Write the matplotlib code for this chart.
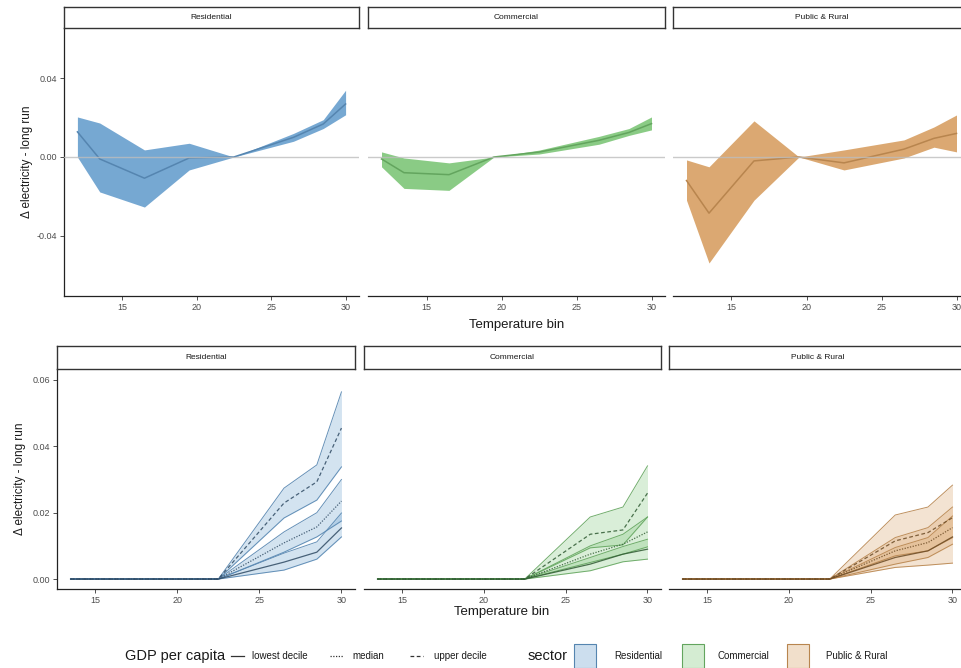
import matplotlib
matplotlib.use("Agg")
import matplotlib.pyplot as plt
from matplotlib.patches import Rectangle
from matplotlib.lines import Line2D

plt.rcParams["font.family"] = ["Liberation Sans", "DejaVu Sans"]

# ---------------- data ----------------
sectors = ["Residential", "Commercial", "Public & Rural"]

# Average effect by temperature bin
temp_bins = [12, 13.5, 16.5, 19.5, 22.5, 26.5, 28.5, 30]
res_mean = [0.0128, -0.0010, -0.0108, -0.0005, 0.0, 0.0100, 0.0168, 0.0270]
res_low = [0.0000, -0.0178, -0.0255, -0.0066, 0.0, 0.0080, 0.0145, 0.0215]
res_high = [0.0204, 0.0173, 0.0036, 0.0070, 0.0, 0.0120, 0.0190, 0.0340]
com_mean = [-0.0010, -0.0080, -0.0090, 0.0, 0.0025, 0.0085, 0.0125, 0.0170]
com_low = [-0.0050, -0.0160, -0.0170, 0.0, 0.0015, 0.0065, 0.0110, 0.0138]
com_high = [0.0026, -0.0005, -0.0030, 0.0, 0.0035, 0.0105, 0.0145, 0.0204]
pub_mean = [-0.0120, -0.0286, -0.0020, 0.0, -0.0030, 0.0040, 0.0095, 0.0120]
pub_low = [-0.0220, -0.0540, -0.0220, 0.0, -0.0066, -0.0005, 0.0050, 0.0026]
pub_high = [-0.0015, -0.0050, 0.0184, 0.0, 0.0036, 0.0087, 0.0153, 0.0214]

# Effect by GDP per capita decile
temp_bins_gdp = [13.5, 16.5, 19.5, 22.5, 26.5, 28.5, 30]
gdp_levels = ["lowest decile", "median", "upper decile"]

res_gdp_mid = [[0, 0, 0, 0, 0.0051, 0.0081, 0.0154],
               [0, 0, 0, 0, 0.0109, 0.0157, 0.0235],
               [0, 0, 0, 0, 0.0229, 0.0293, 0.0455]]
res_gdp_low = [[0, 0, 0, 0, 0.0027, 0.0060, 0.0127],
               [0, 0, 0, 0, 0.0081, 0.0127, 0.0175],
               [0, 0, 0, 0, 0.0184, 0.0238, 0.0338]]
res_gdp_high = [[0, 0, 0, 0, 0.0078, 0.0112, 0.0199],
                [0, 0, 0, 0, 0.0142, 0.0200, 0.0300],
                [0, 0, 0, 0, 0.0274, 0.0344, 0.0564]]

com_gdp_mid = [[0, 0, 0, 0, 0.0045, 0.0075, 0.0090],
               [0, 0, 0, 0, 0.0075, 0.0105, 0.0142],
               [0, 0, 0, 0, 0.0135, 0.0148, 0.0259]]
com_gdp_low = [[0, 0, 0, 0, 0.0025, 0.0052, 0.0060],
               [0, 0, 0, 0, 0.0050, 0.0075, 0.0097],
               [0, 0, 0, 0, 0.0094, 0.0103, 0.0187]]
com_gdp_high = [[0, 0, 0, 0, 0.0065, 0.0098, 0.0120],
                [0, 0, 0, 0, 0.0100, 0.0135, 0.0187],
                [0, 0, 0, 0, 0.0187, 0.0217, 0.0341]]

pub_gdp_mid = [[0, 0, 0, 0, 0.0065, 0.0085, 0.0127],
               [0, 0, 0, 0, 0.0085, 0.0110, 0.0155],
               [0, 0, 0, 0, 0.0115, 0.0140, 0.0185]]
pub_gdp_low = [[0, 0, 0, 0, 0.0035, 0.0042, 0.0048],
               [0, 0, 0, 0, 0.0045, 0.0065, 0.0105],
               [0, 0, 0, 0, 0.0070, 0.0085, 0.0125]]
pub_gdp_high = [[0, 0, 0, 0, 0.0095, 0.0125, 0.0190],
                [0, 0, 0, 0, 0.0125, 0.0155, 0.0217],
                [0, 0, 0, 0, 0.0193, 0.0217, 0.0283]]

x_ticks = [15, 20, 25, 30]
top_y_ticks = [-0.04, 0.00, 0.04]
bot_y_ticks = [0.00, 0.02, 0.04, 0.06]

# ---------------- styling ----------------
fill_cols = {"Residential": "#6fa3d0", "Commercial": "#84c97f", "Public & Rural": "#d9a46a"}
line_cols = {"Residential": "#5585b0", "Commercial": "#63a55e", "Public & Rural": "#b8854e"}
dark_cols = {"Residential": "#2f4a63", "Commercial": "#2f5a32", "Public & Rural": "#6b4a24"}
gdp_styles = {"lowest decile": "-", "median": (0, (1, 1.2)), "upper decile": (0, (3, 2))}

top_data = {
    "Residential": (res_mean, res_low, res_high),
    "Commercial": (com_mean, com_low, com_high),
    "Public & Rural": (pub_mean, pub_low, pub_high),
}
bot_data = {
    "Residential": (res_gdp_mid, res_gdp_low, res_gdp_high),
    "Commercial": (com_gdp_mid, com_gdp_low, com_gdp_high),
    "Public & Rural": (pub_gdp_mid, pub_gdp_low, pub_gdp_high),
}

W, H = 962, 668
fig = plt.figure(figsize=(W / 100, H / 100), dpi=100)


def rect(x0, x1, yt, yb):
    return [x0 / W, 1 - yb / H, (x1 - x0) / W, (yb - yt) / H]


def style_axis(ax, show_y):
    for s in ["top", "right"]:
        ax.spines[s].set_visible(False)
    ax.spines["bottom"].set_linewidth(0.9)
    ax.spines["bottom"].set_color("#222222")
    if show_y:
        ax.spines["left"].set_linewidth(0.9)
        ax.spines["left"].set_color("#222222")
    else:
        ax.spines["left"].set_visible(False)
        ax.tick_params(axis="y", left=False, labelleft=False)
    ax.tick_params(direction="out", length=3, width=0.6, colors="#333333",
                   labelsize=6.5, labelcolor="#4d4d4d", pad=2)
    ax.set_xticks(x_ticks)
    ax.set_xticklabels([str(t) for t in x_ticks])


def strip(x0, x1, yt, yb, label):
    sa = fig.add_axes(rect(x0, x1, yt, yb))
    sa.set_xticks([])
    sa.set_yticks([])
    for s in sa.spines.values():
        s.set_linewidth(1.0)
        s.set_color("#333333")
    sa.text(0.5, 0.5, label, ha="center", va="center", fontsize=6, color="#1a1a1a",
            transform=sa.transAxes)


# ---------------- top row ----------------
top_x = [(64, 359), (368, 665), (673, 970)]
for i, sec in enumerate(sectors):
    x0, x1 = top_x[i]
    ax = fig.add_axes(rect(x0, x1, 28, 296))
    mean, lo, hi = top_data[sec]
    ax.fill_between(temp_bins, lo, hi, color=fill_cols[sec], alpha=0.95, lw=0, zorder=2)
    ax.plot(temp_bins, mean, color=line_cols[sec], lw=1.1, zorder=3)
    ax.axhline(0, color="#bdbdbd", lw=1.0, alpha=0.8, zorder=4)
    ax.set_xlim(11.1, 30.9)
    ax.set_ylim(-0.0708, 0.0657)
    ax.set_yticks(top_y_ticks)
    ax.set_yticklabels(["%.2f" % v for v in top_y_ticks])
    style_axis(ax, i == 0)
    strip(x0, x1, 7, 28, sec)

fig.text(27 / W, 1 - 162 / H, "\u0394 electricity - long run", rotation=90,
         ha="center", va="center", fontsize=8.5, color="#1a1a1a")
fig.text(517 / W, 1 - 325 / H, "Temperature bin", ha="center", va="center",
         fontsize=9.5, color="#1a1a1a")

# ---------------- bottom row ----------------
bot_x = [(57, 355), (364, 661), (669, 966)]
for i, sec in enumerate(sectors):
    x0, x1 = bot_x[i]
    ax = fig.add_axes(rect(x0, x1, 369, 589))
    mids, lows, highs = bot_data[sec]
    for k, lvl in enumerate(gdp_levels):
        ax.fill_between(temp_bins_gdp, lows[k], highs[k], color=fill_cols[sec],
                        alpha=0.3, lw=0, zorder=2)
        ax.plot(temp_bins_gdp, lows[k], color=line_cols[sec], lw=0.7, alpha=0.9, zorder=3)
        ax.plot(temp_bins_gdp, highs[k], color=line_cols[sec], lw=0.7, alpha=0.9, zorder=3)
    for k, lvl in enumerate(gdp_levels):
        ax.plot(temp_bins_gdp, mids[k], color=dark_cols[sec], lw=0.9,
                linestyle=gdp_styles[lvl], alpha=0.85, zorder=4)
    ax.set_xlim(12.675, 30.825)
    ax.set_ylim(-0.003, 0.0633)
    ax.set_yticks(bot_y_ticks)
    ax.set_yticklabels(["%.2f" % v for v in bot_y_ticks])
    style_axis(ax, i == 0)
    strip(x0, x1, 346, 369, sec)

fig.text(20 / W, 1 - 479 / H, "\u0394 electricity - long run", rotation=90,
         ha="center", va="center", fontsize=8.5, color="#1a1a1a")
fig.text(502 / W, 1 - 612 / H, "Temperature bin", ha="center", va="center",
         fontsize=9.5, color="#1a1a1a")

# ---------------- legend ----------------
ly = 1 - 656 / H
fig.text(125 / W, ly, "GDP per capita", ha="left", va="center", fontsize=10.5, color="#1a1a1a")
gdp_legend_x = [(231, 244, 252), (330, 343, 352), (410, 423, 434)]
for (a, b, t), lvl in zip(gdp_legend_x, gdp_levels):
    fig.add_artist(Line2D([a / W, b / W], [ly, ly], color="#333333", lw=0.9,
                          linestyle=gdp_styles[lvl], transform=fig.transFigure))
    fig.text(t / W, ly, lvl, ha="left", va="center", fontsize=7, color="#1a1a1a")

fig.text(528 / W, ly, "sector", ha="left", va="center", fontsize=10.5, color="#1a1a1a")
sector_legend_x = [(574, 614), (682, 718), (787, 826)]
for (bx, tx), sec in zip(sector_legend_x, sectors):
    fig.add_artist(Rectangle((bx / W, 1 - 668 / H), 22 / W, 24 / H,
                             facecolor=fill_cols[sec], alpha=0.35, edgecolor="none",
                             transform=fig.transFigure))
    fig.add_artist(Rectangle((bx / W, 1 - 668 / H), 22 / W, 24 / H,
                             facecolor="none", edgecolor=line_cols[sec], lw=0.8,
                             transform=fig.transFigure))
    fig.text(tx / W, ly, sec, ha="left", va="center", fontsize=7, color="#1a1a1a")

fig.savefig("out.png", dpi=100)
